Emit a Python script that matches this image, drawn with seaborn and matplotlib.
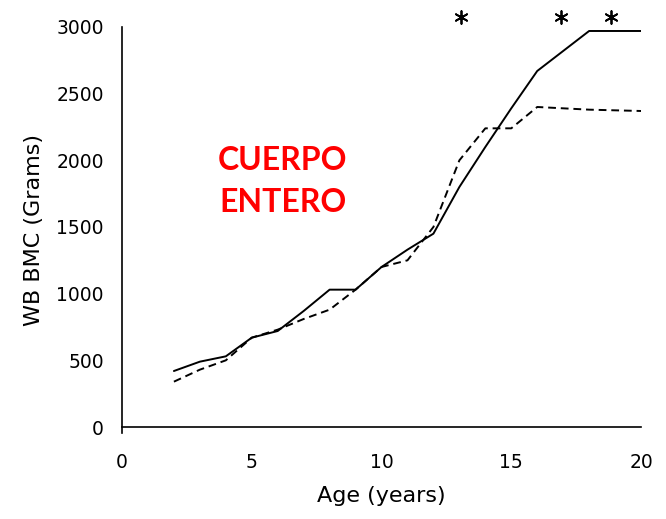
import matplotlib
matplotlib.use("Agg")
import matplotlib.pyplot as plt
import seaborn as sns
import pandas as pd

# Whole-body bone mineral content by age, two groups
ages = list(range(2, 21))
bmc_solid = [420, 490, 530, 670, 720, 870, 1030, 1030, 1200, 1330, 1450,
             1800, 2100, 2390, 2670, 2820, 2970, 2970, 2970]
bmc_dashed = [340, 430, 500, 670, 730, 810, 880, 1030, 1200, 1250, 1500,
              2000, 2240, 2240, 2400, 2390, 2380, 2375, 2370]

# Ages flagged as significantly different
star_ages = [13.05, 16.9, 18.85]
star_level = 3075

x_ticks = [0, 5, 10, 15, 20]
y_ticks = [0, 500, 1000, 1500, 2000, 2500, 3000]

sns.set_theme(style="white")
plt.rcParams["font.family"] = ["DejaVu Sans"]
plt.rcParams["text.color"] = "black"
plt.rcParams["axes.labelcolor"] = "black"
plt.rcParams["xtick.color"] = "black"
plt.rcParams["ytick.color"] = "black"

fig = plt.figure(figsize=(6.66, 5.19), dpi=100)
ax = fig.add_axes([0.1832, 0.1657, 0.7793, 0.7823])

df = pd.DataFrame({
    "Age": ages * 2,
    "BMC": bmc_solid + bmc_dashed,
    "Grupo": ["A"] * len(ages) + ["B"] * len(ages),
})
sns.lineplot(data=df, x="Age", y="BMC", style="Grupo",
             dashes={"A": "", "B": (4, 2.5)}, color="black", lw=1.4,
             legend=False, ax=ax)

sns.scatterplot(x=star_ages, y=[star_level] * len(star_ages), marker=(6, 2, 0),
                s=85, color="black", edgecolor="black", linewidth=1.3,
                ax=ax, clip_on=False, zorder=5)

ax.set_xlim(0, 20)
ax.set_ylim(-45, 3000)
ax.set_xticks(x_ticks)
ax.set_yticks(y_ticks)

for side in ("top", "right"):
    ax.spines[side].set_visible(False)
ax.spines["bottom"].set_position(("data", 0))
for side in ("left", "bottom"):
    ax.spines[side].set_color("black")
    ax.spines[side].set_linewidth(1.2)

ax.tick_params(axis="x", direction="in", length=6, width=1.2, pad=19, labelsize=13.5)
ax.tick_params(axis="y", direction="out", length=5, width=1.2, pad=8, labelsize=13.5)

ax.set_xlabel("Age (years)", fontsize=16, labelpad=10)
ax.set_ylabel("WB BMC (Grams)", fontsize=16, labelpad=9)

ax.text(6.2, 1995, "CUERPO", color="red", fontsize=23, fontweight="bold",
        family="Lato", ha="center", va="center")
ax.text(6.2, 1680, "ENTERO", color="red", fontsize=23, fontweight="bold",
        family="Lato", ha="center", va="center")

fig.savefig("out.png", dpi=100)
